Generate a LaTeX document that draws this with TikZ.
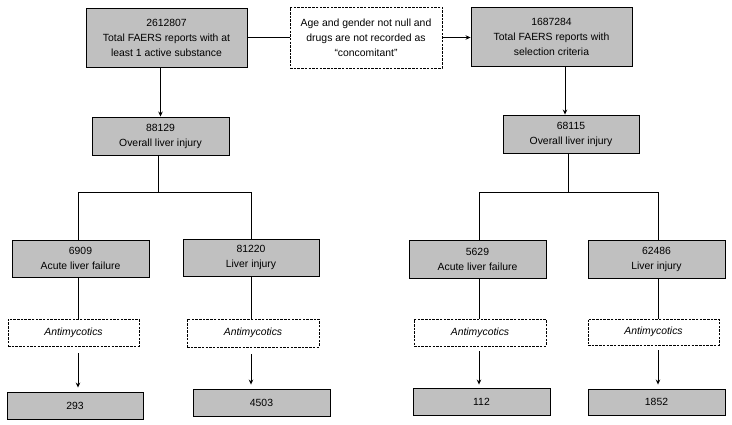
\documentclass[tikz,border=0pt]{standalone}
\usepackage{fontspec}
\setmainfont{Liberation Sans}
\usetikzlibrary{arrows.meta}
\definecolor{boxgray}{HTML}{C0C0C0}
\begin{document}
\begin{tikzpicture}[x=1pt,y=-1pt,
  txt/.style={align=center, inner sep=0pt, font=\fontsize{10.4}{15}\selectfont},
  gbox/.style={txt, draw, fill=boxgray, line width=0.9pt},
  dbox/.style={txt, draw, fill=white, line width=0.8pt, dash pattern=on 2.5pt off 1.2pt},
  conn/.style={line width=0.9pt},
  arr/.style={conn, -{Stealth[length=5pt,width=4.5pt]}}]
\useasboundingbox (0,0) rectangle (732,424);
% top row
\node[gbox, minimum width=161pt, minimum height=59pt] (t1) at (166.5,37.5) {2612807\\Total FAERS reports with at\\least 1 active substance};
\node[dbox, minimum width=152pt, minimum height=61pt] (d0) at (366,37.5) {Age and gender not null and\\drugs are not recorded as\\“concomitant”};
\node[gbox, minimum width=161pt, minimum height=59pt] (t2) at (551.5,36.5) {1687284\\Total FAERS reports with\\selection criteria};
% overall
\node[gbox, minimum width=137pt, minimum height=38pt] (o1) at (160.5,136) {88129\\Overall liver injury};
\node[gbox, minimum width=136pt, minimum height=38pt] (o2) at (571,134) {68115\\Overall liver injury};
% categories
\node[gbox, minimum width=137pt, minimum height=37pt] (a1) at (80.5,258.5) {6909\\Acute liver failure};
\node[gbox, minimum width=136pt, minimum height=37pt] (l1) at (251,257.5) {81220\\Liver injury};
\node[gbox, minimum width=137pt, minimum height=38pt] (a2) at (477.5,259) {5629\\Acute liver failure};
\node[gbox, minimum width=137pt, minimum height=38pt] (l2) at (656.5,259) {62486\\Liver injury};
% filters
\node[dbox, minimum width=131pt, minimum height=27pt] (d1) at (73.5,332.5) {\itshape Antimycotics};
\node[dbox, minimum width=132pt, minimum height=28pt] (d2) at (253,333) {\itshape Antimycotics};
\node[dbox, minimum width=132pt, minimum height=27pt] (d3) at (480,332.5) {\itshape Antimycotics};
\node[dbox, minimum width=131pt, minimum height=26pt] (d4) at (653.5,332) {\itshape Antimycotics};
% results
\node[gbox, minimum width=136pt, minimum height=27pt] (b1) at (75,405.5) {293};
\node[gbox, minimum width=137pt, minimum height=27pt] (b2) at (261.5,402.5) {4503};
\node[gbox, minimum width=137pt, minimum height=27pt] (b3) at (481.5,401.5) {112};
\node[gbox, minimum width=137pt, minimum height=26pt] (b4) at (656.5,402) {1852};
% column coordinates
\coordinate (c1) at (78,0);
\coordinate (c2) at (251,0);
\coordinate (c3) at (479,0);
\coordinate (c4) at (658,0);
\coordinate (c5) at (565,0);
\coordinate (j1) at (158,192);
\coordinate (j2) at (568,192);
% top connectors
\draw[conn] (t1.east) -- (d0.west |- t1.east);
\draw[arr] (d0.east) -- (t2.west |- d0.east);
\draw[arr] (o1.north |- t1.south) -- (o1.north);
\draw[arr] (c5 |- t2.south) -- (c5 |- o2.north);
% branches
\draw[conn] (j1 |- o1.south) -- (j1);
\draw[conn] (c1 |- a1.north) -- (c1 |- j1) -- (c2 |- j1) -- (c2 |- l1.north);
\draw[conn] (j2 |- o2.south) -- (j2);
\draw[conn] (c3 |- a2.north) -- (c3 |- j2) -- (c4 |- j2) -- (c4 |- l2.north);
% to filters
\draw[conn] (c1 |- a1.south) -- (c1 |- d1.north);
\draw[conn] (c2 |- l1.south) -- (c2 |- d2.north);
\draw[conn] (c3 |- a2.south) -- (c3 |- d3.north);
\draw[conn] (c4 |- l2.south) -- (c4 |- d4.north);
% to results
\draw[arr, shorten <=7pt, shorten >=4pt] (c1 |- d1.south) -- (c1 |- b1.north);
\draw[arr, shorten <=7pt, shorten >=4pt] (c2 |- d2.south) -- (c2 |- b2.north);
\draw[arr, shorten <=5pt, shorten >=3pt] (c3 |- d3.south) -- (c3 |- b3.north);
\draw[arr, shorten <=5pt, shorten >=4pt] (c4 |- d4.south) -- (c4 |- b4.north);
\end{tikzpicture}
\end{document}
